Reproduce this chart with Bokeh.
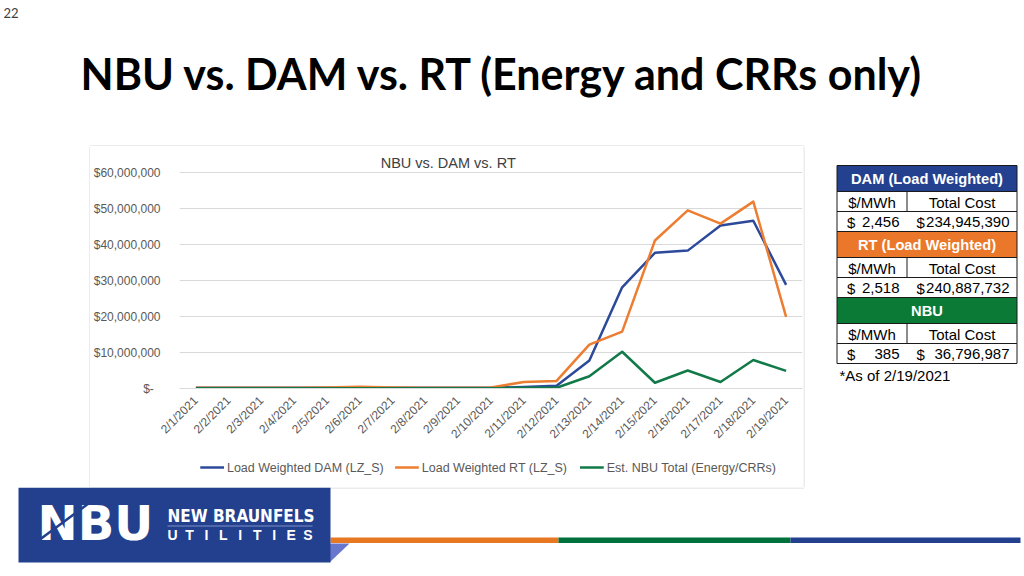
import math
import numpy as np
from bokeh.plotting import figure
from bokeh.models import (Range1d, FactorRange, ColumnDataSource,
                          CustomJSTickFormatter, SingleIntervalTicker, GridBox)
from bokeh.core.properties import value
from bokeh.embed import file_html
from bokeh.resources import INLINE

# ---------------- data ----------------
dates = ["2/1/2021", "2/2/2021", "2/3/2021", "2/4/2021", "2/5/2021", "2/6/2021",
         "2/7/2021", "2/8/2021", "2/9/2021", "2/10/2021", "2/11/2021", "2/12/2021",
         "2/13/2021", "2/14/2021", "2/15/2021", "2/16/2021", "2/17/2021", "2/18/2021",
         "2/19/2021"]
dam_cost = [200000, 200000, 200000, 200000, 200000, 300000, 200000, 200000, 200000,
            200000, 400000, 750000, 7800000, 28100000, 37700000, 38300000, 45300000,
            46600000, 28800000]
rt_cost = [200000, 200000, 200000, 200000, 300000, 500000, 300000, 200000, 200000,
           300000, 1800000, 2100000, 12200000, 15800000, 41100000, 49500000, 45800000,
           51900000, 19900000]
nbu_cost = [50000, 50000, 50000, 50000, 50000, 100000, 50000, 50000, 100000,
            100000, 200000, 200000, 3400000, 10200000, 1600000, 5000000, 1800000,
            7900000, 4900000]
series_names = ["Load Weighted DAM (LZ_S)", "Load Weighted RT (LZ_S)",
                "Est. NBU Total (Energy/CRRs)"]
y_axis_max = 60000000

table_titles = ["DAM (Load Weighted)", "RT (Load Weighted)", "NBU"]
col_headers = ["$/MWh", "Total Cost"]
price_per_mwh = ["2,456", "2,518", "385"]
total_cost = ["234,945,390", "240,887,732", "36,796,987"]
footnote = "*As of 2/19/2021"

slide_title = "NBU vs. DAM vs. RT (Energy and CRRs only)"
chart_title = "NBU vs. DAM vs. RT"
page_number = "22"

# ---------------- styles ----------------
C_BLUE = "#2d4a9a"
C_ORANGE = "#ed7d31"
C_GREEN = "#117a48"
SERIES_COLORS = [C_BLUE, C_ORANGE, C_GREEN]
T_BLUE = "#24418f"
T_ORANGE = "#eb772a"
T_GREEN = "#0b7a36"
LOGO_BLUE = "#23408f"
BOX_GRAY = "#d9d9d9"
ARIAL_S = "Liberation Sans"
ARIAL = value(ARIAL_S)


def blank(width, height, x0, x1, y0, y1):
    f = figure(width=width, height=height, x_range=Range1d(x0, x1),
               y_range=Range1d(y1, y0), output_backend="svg", toolbar_location=None,
               min_border=0, x_axis_location=None, y_axis_location=None, title=None)
    f.outline_line_color = None
    f.xgrid.visible = False
    f.ygrid.visible = False
    f.background_fill_alpha = 0
    f.border_fill_alpha = 0
    return f


# ---------------- title strip (page y 0..146) ----------------
top = blank(1024, 146, 0, 1024, 0, 146)
top.text(x=[3], y=[12], text=[page_number], text_font=value("Lato"),
         text_font_size="13px", text_color="#404040", text_baseline="middle")
top.text(x=[80], y=[73], text=[slide_title], text_font=value("Lato"),
         text_font_style="bold", text_font_size="43px", text_color="#000000",
         text_baseline="middle")
top.segment(x0=89.5, y0=145.5, x1=803.5, y1=145.5, line_color=BOX_GRAY, line_width=1)

# ---------------- left / gap pieces of the chart box ----------------
left = blank(90, 341, 0, 90, 146, 487)
left.segment(x0=89.5, y0=146, x1=89.5, y1=487, line_color=BOX_GRAY, line_width=1)
gap = blank(30, 341, 803, 833, 146, 487)
gap.segment(x0=803.5, y0=146, x1=803.5, y1=487, line_color=BOX_GRAY, line_width=1)

# ---------------- chart (page y 146..452; plot area 172..388) ----------------
y_top = y_axis_max * (388 - 146) / (388 - 172)
src = ColumnDataSource(dict(date=dates, dam=dam_cost, rt=rt_cost, nbu=nbu_cost))
p = figure(width=713, height=306, x_range=FactorRange(*dates), y_range=Range1d(0, y_top),
           output_backend="svg", toolbar_location=None, title=None,
           min_border_left=82, min_border_right=1, min_border_top=0, min_border_bottom=64)
p.outline_line_color = None
p.background_fill_color = "white"
p.border_fill_color = "white"

for col, c in zip(["dam", "rt", "nbu"], SERIES_COLORS):
    p.line("date", col, source=src, color=c, line_width=2.5, line_join="round")

p.text(x=[dates[8]], y=[y_axis_max * (388 - 162) / (388 - 172)], text=[chart_title],
       x_offset=-10, text_font=ARIAL, text_font_size="14.5px", text_color="#404040",
       text_align="center", text_baseline="middle")

p.xgrid.visible = False
p.ygrid.grid_line_color = BOX_GRAY
p.ygrid.grid_line_width = 1

p.yaxis.ticker = SingleIntervalTicker(interval=10000000, num_minor_ticks=0)
p.yaxis.formatter = CustomJSTickFormatter(
    code="return tick == 0 ? '$-\\u00a0\\u00a0' : '$' + Math.round(tick).toLocaleString('en-US');")
p.yaxis.axis_line_color = None
p.yaxis.major_tick_line_color = None
p.yaxis.minor_tick_line_color = None
p.yaxis.major_label_standoff = 13
p.yaxis.major_label_text_font = ARIAL_S
p.yaxis.major_label_text_font_size = "12px"
p.yaxis.major_label_text_color = "#595959"

p.xaxis.axis_line_color = BOX_GRAY
p.xaxis.major_tick_line_color = None
p.xaxis.minor_tick_line_color = None
p.xaxis.major_label_orientation = math.pi / 4
p.xaxis.major_label_standoff = 4
p.xaxis.major_label_text_font = ARIAL_S
p.xaxis.major_label_text_font_size = "12px"
p.xaxis.major_label_text_color = "#595959"

# ---------------- legend strip (page y 452..487) ----------------
# its plot area is aligned by the grid with the chart's plot area (x 172..802)
lg = blank(713, 35, 172, 802, 452, 487)
leg_x = [193, 390, 577]
lg.segment(x0=leg_x, y0=[467] * 3, x1=[x + 24 for x in leg_x], y1=[467] * 3,
           line_color=SERIES_COLORS, line_width=2.5)
lg.text(x=[x + 27 for x in leg_x], y=[467] * 3, text=series_names, text_font=ARIAL,
        text_font_size="12.5px", text_color="#595959", text_baseline="middle")

# ---------------- table ----------------
tb = blank(191, 341, 833, 1024, 146, 487)
t_colors = [T_BLUE, T_ORANGE, T_GREEN]
x_l, x_m, x_r = 836.5, 906.5, 1016.5
for i in range(3):
    y0 = 165 + i * 66
    tb.quad(left=x_l, right=x_r, top=y0, bottom=y0 + 26, fill_color=t_colors[i],
            line_color="#1a1a1a", line_width=1)
    tb.quad(left=x_l, right=x_r, top=y0 + 26, bottom=y0 + 46, fill_color="white",
            line_color="#1a1a1a", line_width=1)
    tb.quad(left=x_l, right=x_r, top=y0 + 46, bottom=y0 + 66, fill_color="white",
            line_color="#1a1a1a", line_width=1)
    tb.segment(x0=x_m, y0=y0 + 26, x1=x_m, y1=y0 + 46, line_color="#1a1a1a", line_width=1)
    tb.text(x=[926.5], y=[y0 + 13.5], text=[table_titles[i]], text_font=ARIAL,
            text_font_style="bold", text_font_size="14.67px", text_color="white",
            text_align="center", text_baseline="middle")
    tb.text(x=[871.5, 961.5], y=[y0 + 36.5, y0 + 36.5], text=col_headers, text_font=ARIAL,
            text_font_size="15px", text_color="#000000", text_align="center",
            text_baseline="middle")
    tb.text(x=[846.5, 916], y=[y0 + 56.5, y0 + 56.5], text=["$", "$"], text_font=ARIAL,
            text_font_size="15px", text_color="#000000", text_align="left",
            text_baseline="middle")
    tb.text(x=[899, 1009], y=[y0 + 56.5, y0 + 56.5], text=[price_per_mwh[i], total_cost[i]],
            text_font=ARIAL, text_font_size="15px", text_color="#000000",
            text_align="right", text_baseline="middle")
tb.text(x=[839], y=[374.5], text=[footnote], text_font=ARIAL, text_font_size="15px",
        text_color="#000000", text_align="left", text_baseline="middle")

# ---------------- bottom strip (page y 487..576) ----------------
bt = blank(1024, 89, 0, 1024, 487, 576)
bt.segment(x0=89.5, y0=487.5, x1=803.5, y1=487.5, line_color=BOX_GRAY, line_width=1)
bt.quad(left=[330, 558, 790], right=[558, 790, 1020], top=537, bottom=542.5,
        fill_color=["#e87722", "#00703c", LOGO_BLUE], line_color=None)
bt.patch(x=[329, 349, 329], y=[543, 543, 562], fill_color="#6677cc", line_color=None)
bt.quad(left=18, right=330, top=487, bottom=562, fill_color=LOGO_BLUE, line_color=None)
bt.text(x=[37], y=[522], text=["NBU"], text_font=value("DejaVu Sans"), text_font_style="bold",
        text_font_size="48px", text_color="white", text_baseline="middle")
bt.segment(x0=38, y0=540, x1=88, y1=503, line_color=LOGO_BLUE, line_width=2.5)
bt.text(x=[167], y=[515], text=["NEW BRAUNFELS"],
        text_font=value("Liberation Sans Narrow, DejaVu Sans Condensed"),
        text_font_style="bold", text_font_size="17px", text_color="white",
        text_baseline="middle")
bt.segment(x0=167, y0=525.5, x1=312, y1=525.5, line_color="#7f8fc4", line_width=1)
letters = list("UTILITIES")
bt.text(x=list(np.linspace(172, 307.5, len(letters))), y=[534.5] * len(letters), text=letters,
        text_font=ARIAL, text_font_style="bold", text_font_size="14px", text_color="white",
        text_align="center", text_baseline="middle")

layout = GridBox(children=[(top, 0, 0, 1, 4),
                           (left, 1, 0, 2, 1), (p, 1, 1), (lg, 2, 1),
                           (gap, 1, 2, 2, 1), (tb, 1, 3, 2, 1),
                           (bt, 3, 0, 1, 4)], spacing=0)
open("out.html", "w").write(file_html(layout, INLINE))
